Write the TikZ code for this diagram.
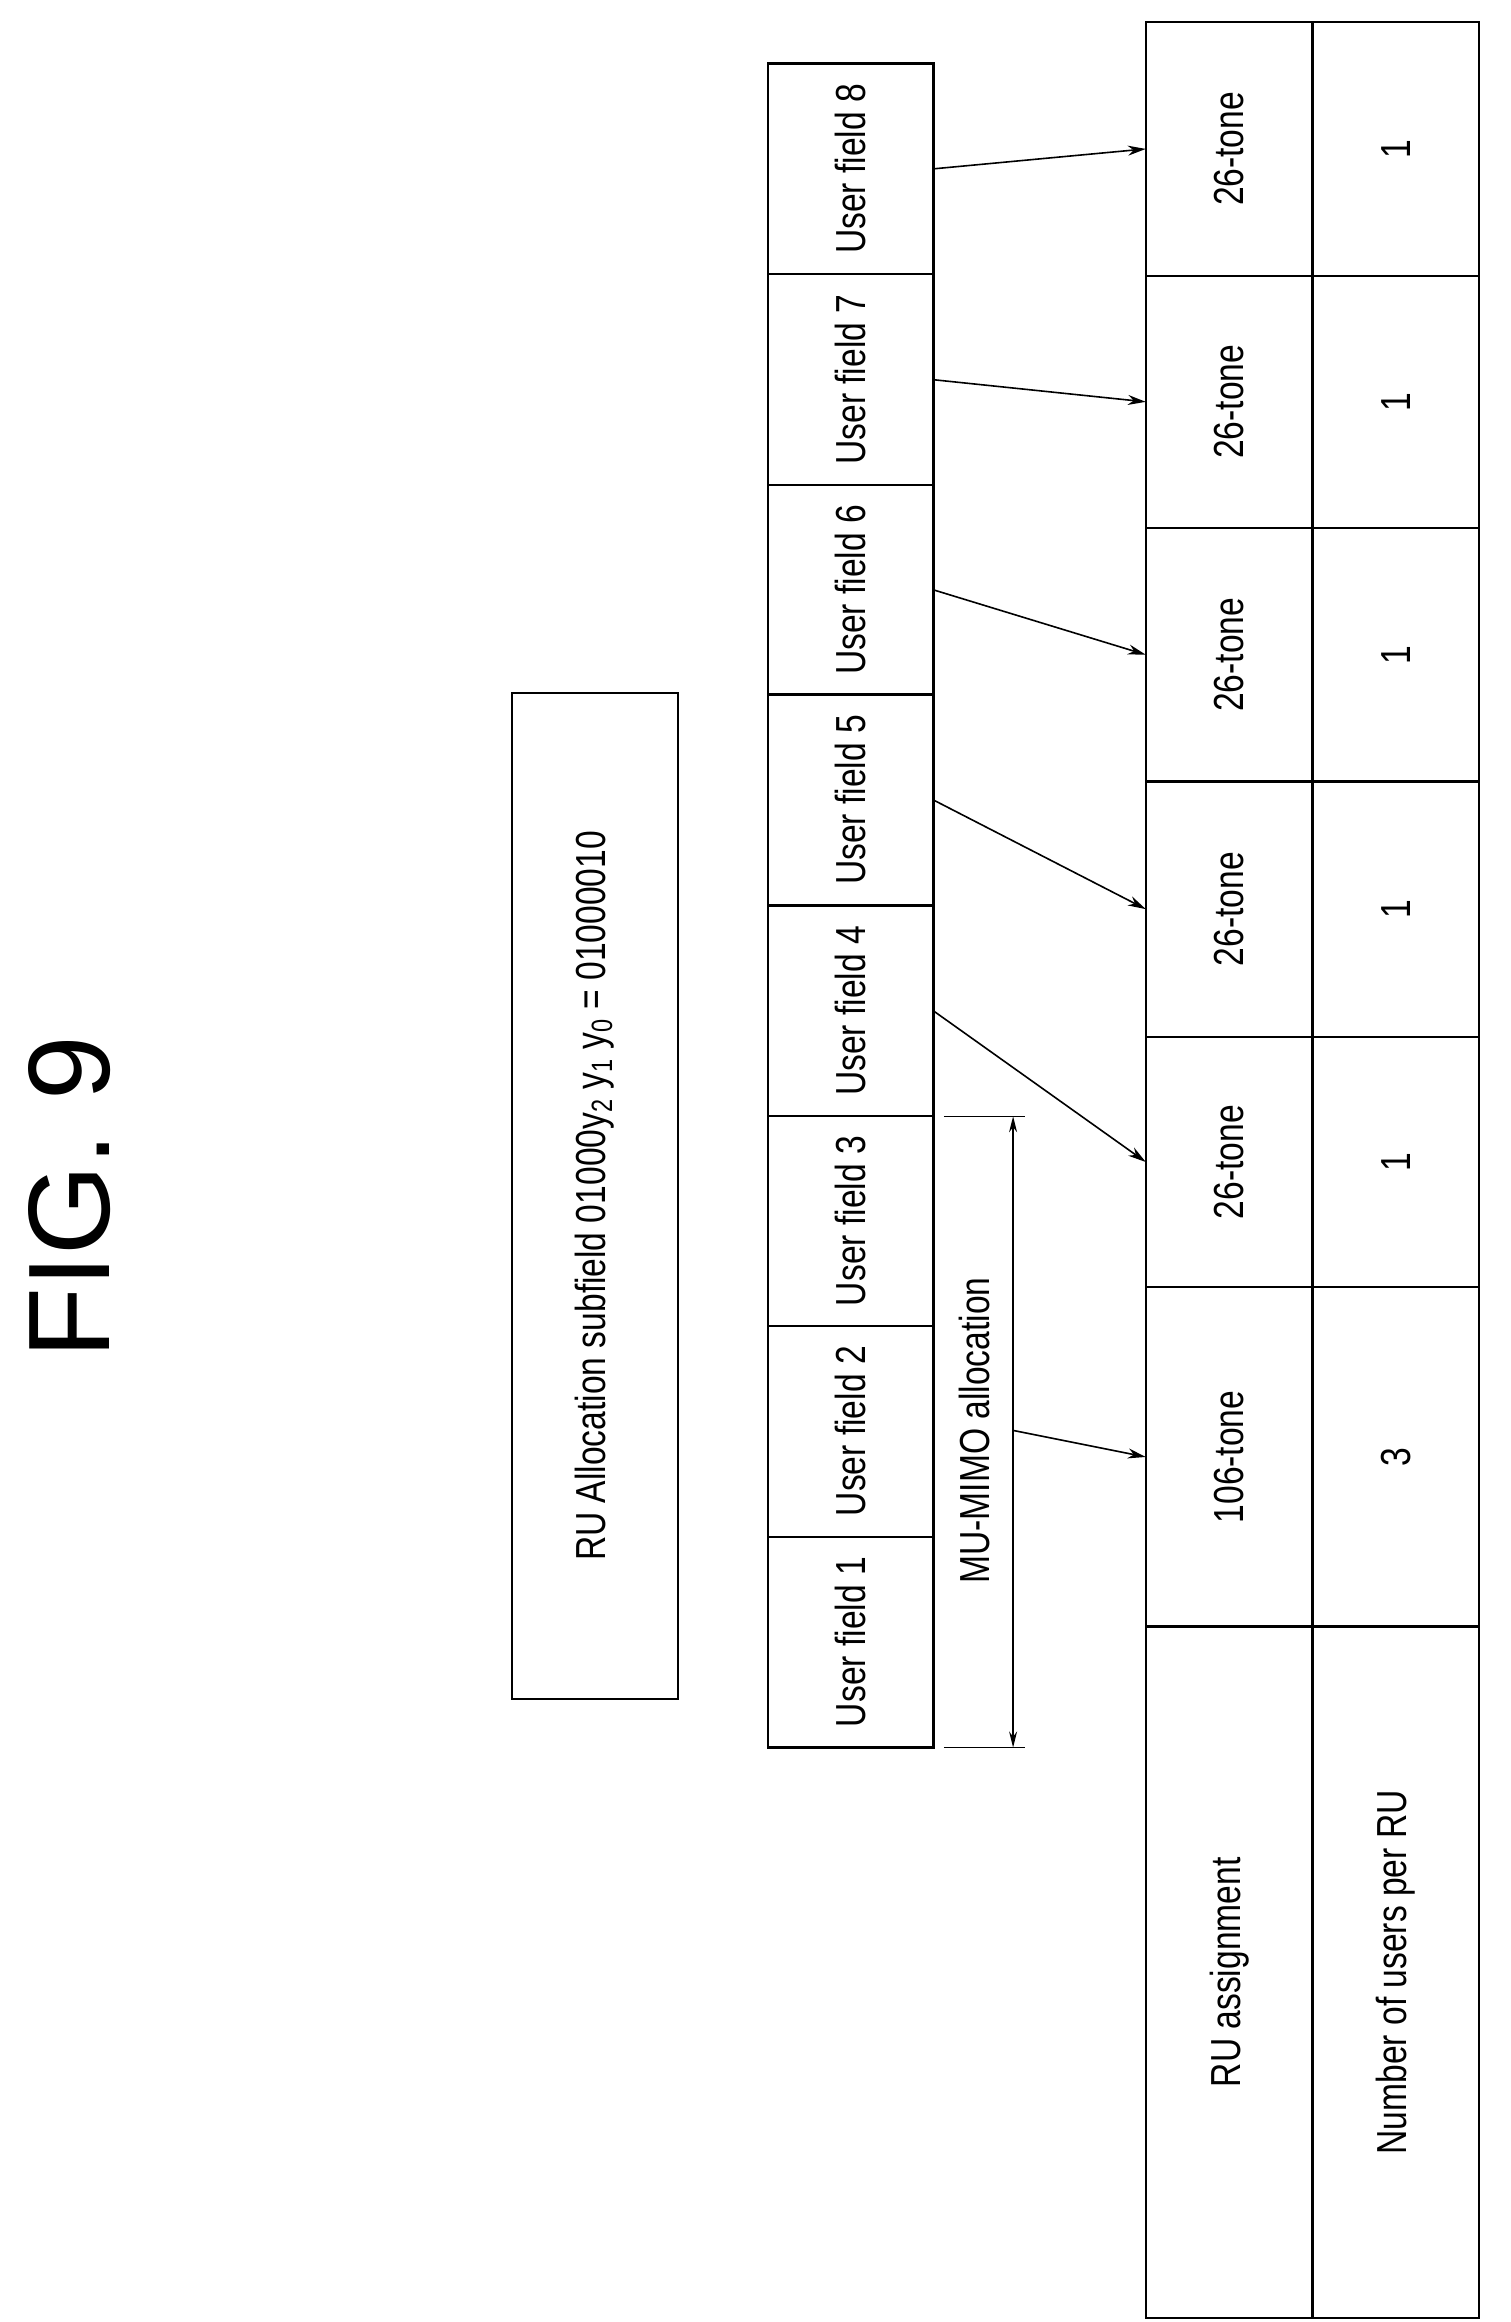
\documentclass[tikz,border=0pt]{standalone}
\usepackage{fontspec}
\setmainfont{Liberation Sans}
\usetikzlibrary{arrows.meta}
\newcommand\lbl[1]{\scalebox{0.8}[1]{#1}}
\newcommand\mycell[6]{\node[cellbox, minimum width={(#4-#2)*0.7373pt}, minimum height={(#5-#3)*0.7373pt}] (#1) at ({(#2+#4)/2},{(#3+#5)/2}) {\rotatebox{90}{\lbl{#6}}};}
\begin{document}
\begin{tikzpicture}[x=0.7373pt,y=-0.7373pt,
  cellbox/.style={draw, line width=1.1pt, inner sep=0pt, outer sep=0pt, font=\fontsize{21}{24}\selectfont},
  conn/.style={line width=0.8pt, -{Stealth[length=9pt,width=5pt]}},
  dim/.style={line width=0.7pt}]
\useasboundingbox (0,0) rectangle (1024,1574.6);
\node[font=\fontsize{58}{60}\selectfont, rotate=90] (fig) at (47,812) {FIG. 9};
\mycell{ru}{347}{470}{460}{1152}{RU Allocation subfield 01000y\textsubscript{2} y\textsubscript{1} y\textsubscript{0} = 01000010}
\mycell{uf8}{521}{43}{633}{186}{User field 8}
\mycell{uf7}{521}{186}{633}{329}{User field 7}
\mycell{uf6}{521}{329}{633}{471}{User field 6}
\mycell{uf5}{521}{471}{633}{614}{User field 5}
\mycell{uf4}{521}{614}{633}{757}{User field 4}
\mycell{uf3}{521}{757}{633}{899}{User field 3}
\mycell{uf2}{521}{899}{633}{1042}{User field 2}
\mycell{uf1}{521}{1042}{633}{1185}{User field 1}
\mycell{t8}{777}{15}{890}{187}{26-tone}
\mycell{t7}{777}{187}{890}{358}{26-tone}
\mycell{t6}{777}{358}{890}{530}{26-tone}
\mycell{t5}{777}{530}{890}{703}{26-tone}
\mycell{t4}{777}{703}{890}{873}{26-tone}
\mycell{t1}{777}{873}{890}{1103}{106-tone}
\mycell{th}{777}{1103}{890}{1572}{RU assignment}
\mycell{n8}{890}{15}{1003}{187}{1}
\mycell{n7}{890}{187}{1003}{358}{1}
\mycell{n6}{890}{358}{1003}{530}{1}
\mycell{n5}{890}{530}{1003}{703}{1}
\mycell{n4}{890}{703}{1003}{873}{1}
\mycell{n1}{890}{873}{1003}{1103}{3}
\mycell{nh}{890}{1103}{1003}{1572}{Number of users per RU}
% dimension
\coordinate (e1a) at (640,757); \coordinate (e1b) at (695,757);
\coordinate (e2a) at (640,1185); \coordinate (e2b) at (695,1185);
\coordinate (d1) at (687,757); \coordinate (d2) at (687,1185);
\coordinate (dm) at (687,970);
\draw[dim] (e1a) -- (e1b);
\draw[dim] (e2a) -- (e2b);
\draw[dim, {Stealth[length=8pt,width=4pt]}-{Stealth[length=8pt,width=4pt]}] (d1) -- (d2);
\node[rotate=90, font=\fontsize{21}{24}\selectfont] (mu) at (661,970) {\lbl{MU-MIMO allocation}};
% connectors
\draw[conn] (uf8.east) -- (t8.west);
\draw[conn] (uf7.east) -- (t7.west);
\draw[conn] (uf6.east) -- (t6.west);
\draw[conn] (uf5.east) -- (t5.west);
\draw[conn] (uf4.east) -- (t4.west);
\draw[conn] (dm) -- (t1.west);
\end{tikzpicture}
\end{document}
